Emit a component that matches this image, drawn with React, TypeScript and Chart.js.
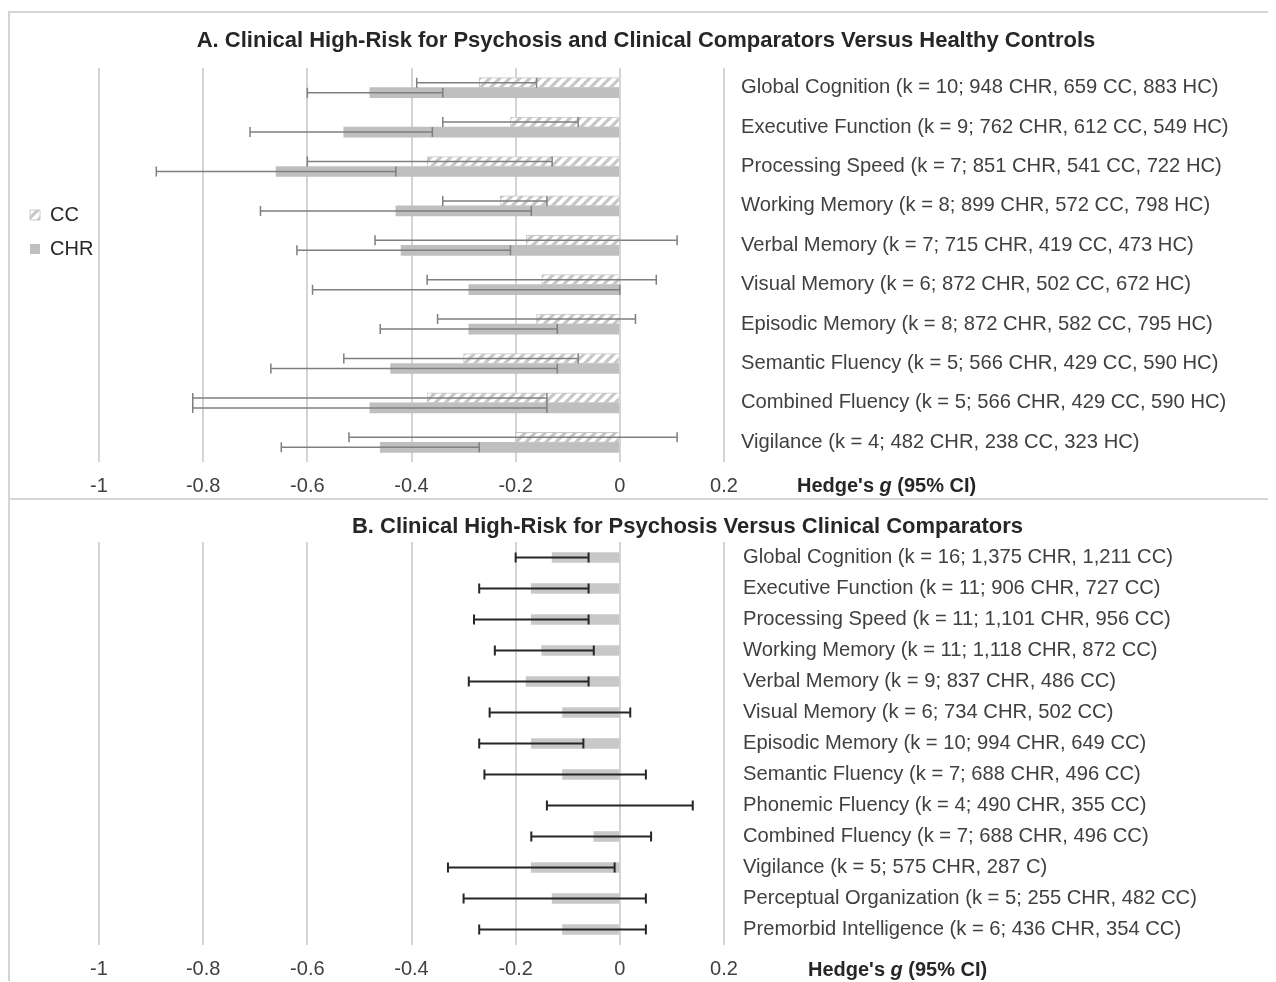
import React, { useEffect, useRef } from 'react';
import { Chart, registerables } from 'chart.js';

Chart.register(...registerables);

const FONT = '"Liberation Sans", Arial, Helvetica, sans-serif';

// ---------- Panel A data ----------
const categoriesA = [
  'Global Cognition (k = 10; 948 CHR, 659 CC, 883 HC)',
  'Executive Function (k = 9; 762 CHR, 612 CC, 549 HC)',
  'Processing Speed (k = 7; 851 CHR, 541 CC, 722 HC)',
  'Working Memory (k = 8; 899 CHR, 572 CC, 798 HC)',
  'Verbal Memory (k = 7; 715 CHR, 419 CC, 473 HC)',
  'Visual Memory (k = 6; 872 CHR, 502 CC, 672 HC)',
  'Episodic Memory (k = 8; 872 CHR, 582 CC, 795 HC)',
  'Semantic Fluency (k = 5; 566 CHR, 429 CC, 590 HC)',
  'Combined Fluency (k = 5; 566 CHR, 429 CC, 590 HC)',
  'Vigilance (k = 4; 482 CHR, 238 CC, 323 HC)',
];
const ccA = [-0.27, -0.21, -0.37, -0.23, -0.18, -0.15, -0.16, -0.30, -0.37, -0.20];
const ccLoA = [-0.39, -0.34, -0.60, -0.34, -0.47, -0.37, -0.35, -0.53, -0.82, -0.52];
const ccHiA = [-0.16, -0.08, -0.13, -0.14, 0.11, 0.07, 0.03, -0.08, -0.14, 0.11];
const chrA = [-0.48, -0.53, -0.66, -0.43, -0.42, -0.29, -0.29, -0.44, -0.48, -0.46];
const chrLoA = [-0.60, -0.71, -0.89, -0.69, -0.62, -0.59, -0.46, -0.67, -0.82, -0.65];
const chrHiA = [-0.34, -0.36, -0.43, -0.17, -0.21, 0.0, -0.12, -0.12, -0.14, -0.27];

// ---------- Panel B data ----------
const categoriesB = [
  'Global Cognition (k = 16; 1,375 CHR, 1,211 CC)',
  'Executive Function (k = 11; 906 CHR, 727 CC)',
  'Processing Speed (k = 11; 1,101 CHR, 956 CC)',
  'Working Memory (k = 11; 1,118 CHR, 872 CC)',
  'Verbal Memory (k = 9; 837 CHR, 486 CC)',
  'Visual Memory (k = 6; 734 CHR, 502 CC)',
  'Episodic Memory (k = 10; 994 CHR, 649 CC)',
  'Semantic Fluency (k = 7; 688 CHR, 496 CC)',
  'Phonemic Fluency (k = 4; 490 CHR, 355 CC)',
  'Combined Fluency (k = 7; 688 CHR, 496 CC)',
  'Vigilance (k = 5; 575 CHR, 287 C)',
  'Perceptual Organization (k = 5; 255 CHR, 482 CC)',
  'Premorbid Intelligence (k = 6; 436 CHR, 354 CC)',
];
const gB = [-0.13, -0.17, -0.17, -0.15, -0.18, -0.11, -0.17, -0.11, 0.0, -0.05, -0.17, -0.13, -0.11];
const loB = [-0.20, -0.27, -0.28, -0.24, -0.29, -0.25, -0.27, -0.26, -0.14, -0.17, -0.33, -0.30, -0.27];
const hiB = [-0.06, -0.06, -0.06, -0.05, -0.06, 0.02, -0.07, 0.05, 0.14, 0.06, -0.01, 0.05, 0.05];

const xTickValues = [-1, -0.8, -0.6, -0.4, -0.2, 0, 0.2];

const titleA = 'A. Clinical High-Risk for Psychosis and Clinical Comparators Versus Healthy Controls';
const titleB = 'B. Clinical High-Risk for Psychosis Versus Clinical Comparators';

function makeHatch(): CanvasPattern | string {
  const c = document.createElement('canvas');
  c.width = 10;
  c.height = 10;
  const g = c.getContext('2d');
  if (!g) return '#dddddd';
  g.fillStyle = '#c6c6c6';
  g.fillRect(0, 0, 10, 10);
  g.strokeStyle = '#ffffff';
  g.lineWidth = 4;
  g.beginPath();
  g.moveTo(0, 10);
  g.lineTo(10, 0);
  g.moveTo(-5, 5);
  g.lineTo(5, -5);
  g.moveTo(5, 15);
  g.lineTo(15, 5);
  g.stroke();
  return g.createPattern(c, 'repeat') || '#dddddd';
}

const errorBarPlugin = {
  id: 'errorBars',
  afterDatasetsDraw(chart: any, _args: any, opts: any) {
    const { ctx } = chart;
    const xs = chart.scales.x;
    chart.data.datasets.forEach((ds: any, di: number) => {
      if (!ds.errLo) return;
      const meta = chart.getDatasetMeta(di);
      ctx.save();
      ctx.strokeStyle = opts.color;
      ctx.lineWidth = opts.width;
      meta.data.forEach((el: any, i: number) => {
        const y = el.y;
        const x1 = xs.getPixelForValue(ds.errLo[i]);
        const x2 = xs.getPixelForValue(ds.errHi[i]);
        const c = opts.cap;
        ctx.beginPath();
        ctx.moveTo(x1, y);
        ctx.lineTo(x2, y);
        ctx.moveTo(x1, y - c);
        ctx.lineTo(x1, y + c);
        ctx.moveTo(x2, y - c);
        ctx.lineTo(x2, y + c);
        ctx.stroke();
      });
      ctx.restore();
    });
  },
};

const axisTitlePlugin = {
  id: 'axisTitle',
  afterDraw(chart: any, _args: any, opts: any) {
    const { ctx, chartArea } = chart;
    let x = chartArea.right + opts.dx;
    const y = chartArea.bottom + opts.dy;
    ctx.save();
    ctx.fillStyle = '#262626';
    ctx.textBaseline = 'middle';
    ctx.textAlign = 'left';
    const parts: [string, string][] = [
      ["Hedge's ", 'bold'],
      ['g', 'italic bold'],
      [' (95% CI)', 'bold'],
    ];
    for (const [t, st] of parts) {
      ctx.font = `${st} 20px ${FONT}`;
      ctx.fillText(t, x, y);
      x += ctx.measureText(t).width;
    }
    ctx.restore();
  },
};

function xScale(padding: number) {
  return {
    min: -1,
    max: 0.2,
    afterBuildTicks: (s: any) => {
      s.ticks = xTickValues.map((v) => ({ value: v }));
    },
    afterFit: (s: any) => {
      s.height = 36;
    },
    grid: { color: '#d4d4d4', lineWidth: 2, drawTicks: false },
    border: { display: false },
    ticks: {
      padding,
      color: '#404040',
      font: { family: FONT, size: 20 },
      callback: (v: any) => String(v),
    },
  };
}

function yScale(padding: number, width: number) {
  return {
    position: 'right' as const,
    afterFit: (s: any) => {
      s.width = width;
    },
    grid: { display: false, drawTicks: false },
    border: { display: false },
    ticks: {
      padding,
      autoSkip: false,
      color: '#404040',
      font: { family: FONT, size: 20.2 },
    },
  };
}

function PanelA() {
  const ref = useRef<HTMLCanvasElement>(null);
  useEffect(() => {
    if (!ref.current) return;
    const hatch = makeHatch();
    const chart = new Chart(ref.current, {
      type: 'bar',
      data: {
        labels: categoriesA,
        datasets: [
          {
            label: 'CC',
            data: ccA,
            errLo: ccLoA,
            errHi: ccHiA,
            backgroundColor: hatch,
            borderColor: '#c8c8c8',
            borderWidth: 1,
            barThickness: 10,
          } as any,
          {
            label: 'CHR',
            data: chrA,
            errLo: chrLoA,
            errHi: chrHiA,
            backgroundColor: '#bfbfbf',
            borderWidth: 0,
            barThickness: 10,
          } as any,
        ],
      },
      options: {
        indexAxis: 'y',
        responsive: false,
        animation: false,
        layout: { padding: { left: 6, right: 0, top: 0, bottom: 0 } },
        plugins: {
          title: {
            display: true,
            text: titleA,
            color: '#262626',
            font: { family: FONT, size: 22, weight: 'bold' },
            padding: { top: 15, bottom: 13.6 },
          },
          legend: {
            position: 'left',
            align: 'start',
            maxWidth: 83,
            labels: {
              boxWidth: 10,
              boxHeight: 10,
              padding: 14,
              color: '#262626',
              font: { family: FONT, size: 20 },
            },
            title: {
              display: true,
              text: ' ',
              font: { size: 1, lineHeight: 1 },
              padding: { top: 0, bottom: 177 },
            },
          },
          tooltip: { enabled: false },
          errorBars: { color: '#7f7f7f', width: 1.5, cap: 5 },
          axisTitle: { dx: 73, dy: 24 },
        } as any,
        scales: {
          x: xScale(12) as any,
          y: yScale(17, 552) as any,
        },
      },
      plugins: [errorBarPlugin, axisTitlePlugin],
    });
    return () => chart.destroy();
  }, []);
  return <canvas ref={ref} width={1266} height={485} style={{ display: 'block' }} />;
}

function PanelB() {
  const ref = useRef<HTMLCanvasElement>(null);
  useEffect(() => {
    if (!ref.current) return;
    const chart = new Chart(ref.current, {
      type: 'bar',
      data: {
        labels: categoriesB,
        datasets: [
          {
            label: 'CHR vs CC',
            data: gB,
            errLo: loB,
            errHi: hiB,
            backgroundColor: '#c8c8c8',
            borderWidth: 0,
            barThickness: 10,
          } as any,
        ],
      },
      options: {
        indexAxis: 'y',
        responsive: false,
        animation: false,
        layout: { padding: { left: 89, right: 0, top: 0, bottom: 0 } },
        plugins: {
          title: {
            display: true,
            text: titleB,
            color: '#262626',
            font: { family: FONT, size: 22, weight: 'bold' },
            padding: { top: 14, bottom: 1.6 },
          },
          legend: { display: false },
          tooltip: { enabled: false },
          errorBars: { color: '#262626', width: 2, cap: 5 },
          axisTitle: { dx: 84, dy: 25 },
        } as any,
        scales: {
          x: xScale(12) as any,
          y: yScale(19, 552) as any,
        },
      },
      plugins: [errorBarPlugin, axisTitlePlugin],
    });
    return () => chart.destroy();
  }, []);
  return <canvas ref={ref} width={1266} height={481} style={{ display: 'block' }} />;
}

export default function App() {
  const border = '2px solid #d4d4d4';
  return (
    <div style={{ paddingTop: 3 }}>
      <style>{'html,body{overflow:hidden;}'}</style>
      <div style={{ borderTop: border, borderLeft: border, borderBottom: border, width: 1268 }}>
        <PanelA />
      </div>
      <div style={{ borderLeft: border, width: 1268 }}>
        <PanelB />
      </div>
    </div>
  );
}
